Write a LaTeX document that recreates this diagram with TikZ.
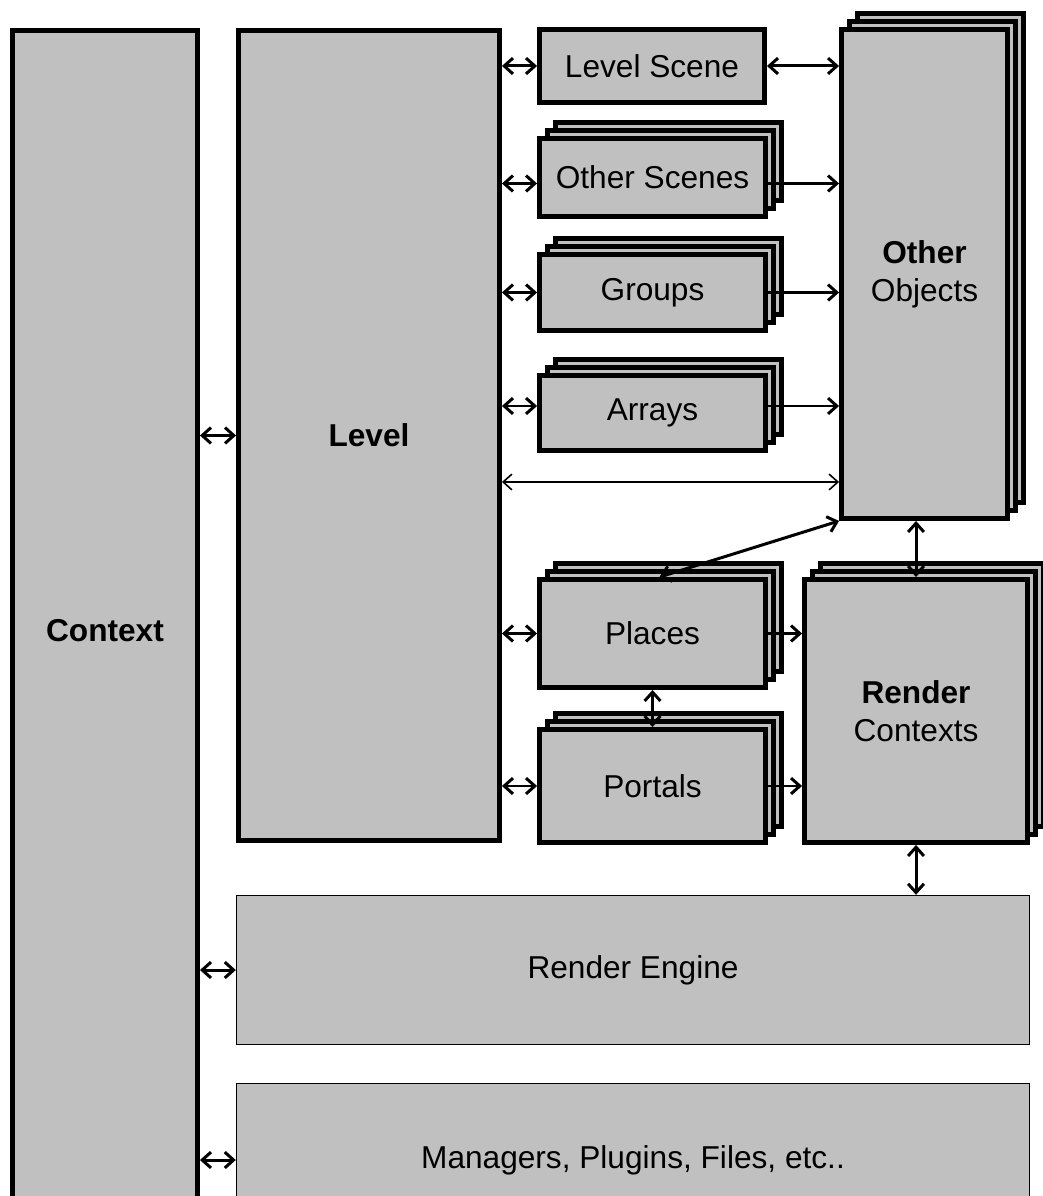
\documentclass[tikz,border=0pt]{standalone}
\usepackage{fontspec}
\setmainfont{Liberation Sans}
\usetikzlibrary{arrows.meta,shadows}
\definecolor{boxgray}{RGB}{192,192,192}

\begin{document}
\begin{tikzpicture}[>={Straight Barb[length=2.5pt,width=4.5pt]}, font=\fontsize{9}{10.8}\selectfont,
    heavy/.style={draw, line width=1.4pt, fill=boxgray, inner sep=0pt, align=center},
    light/.style={draw, line width=0.4pt, fill=boxgray, inner sep=0pt, align=center},
    stacked/.style={heavy,
        general shadow={shadow scale=1, shadow xshift=0.16cm, shadow yshift=0.16cm, draw, fill=boxgray, line width=1.4pt},
        general shadow={shadow scale=1, shadow xshift=0.08cm, shadow yshift=0.08cm, draw, fill=boxgray, line width=1.4pt}},
    link/.style={<->, line width=0.85pt}]
    \useasboundingbox (0,0) rectangle (10.43,-11.96);
    % boxes
    \node[heavy, minimum width=1.85cm, minimum height=12cm] (context) at (1.05,-6.305) {\bfseries Context};
    \node[heavy, minimum width=2.61cm, minimum height=8.10cm] (level) at (3.69,-4.355) {\bfseries Level};
    \node[heavy, minimum width=2.25cm, minimum height=0.73cm] (ls) at (6.52,-0.66) {Level Scene};
    \node[stacked, minimum width=2.26cm, minimum height=0.78cm] (os) at (6.525,-1.775) {Other Scenes};
    \node[stacked, minimum width=2.26cm, minimum height=0.76cm] (groups) at (6.525,-2.925) {Groups};
    \node[stacked, minimum width=2.26cm, minimum height=0.75cm] (arrays) at (6.525,-4.13) {Arrays};
    \node[stacked, minimum width=1.66cm, minimum height=4.89cm] (oo) at (9.245,-2.74) {\textbf{Other}\\Objects};
    \node[stacked, minimum width=2.26cm, minimum height=1.08cm] (places) at (6.525,-6.335) {Places};
    \node[stacked, minimum width=2.26cm, minimum height=1.13cm] (portals) at (6.525,-7.86) {Portals};
    \node[stacked, minimum width=2.23cm, minimum height=2.63cm] (rc) at (9.16,-7.11) {\textbf{Render}\\Contexts};
    \node[light, minimum width=7.93cm, minimum height=1.49cm] (re) at (6.33,-9.70) {Render Engine};
    \node[light, minimum width=7.93cm, minimum height=1.53cm] (mgr) at (6.33,-11.60) {Managers, Plugins, Files, etc..};
    \coordinate (mid) at (0,-4.82);
    % links
    \draw[link] (context.east |- level.west) -- (level.west);
    \draw[link] (context.east |- re.west) -- (re.west);
    \draw[link] (context.east |- mgr.west) -- (mgr.west);
    \draw[link] (level.east |- ls.west) -- (ls.west);
    \draw[link] (ls.east) -- (ls.east -| oo.west);
    \draw[link] (level.east |- os.west) ++(0,-0.06) -- ([yshift=-0.06cm]os.west);
    \draw[link] (level.east |- groups.west) -- (groups.west);
    \draw[link] (level.east |- arrays.west) ++(0,0.07) -- ([yshift=0.07cm]arrays.west);
    \draw[->, line width=0.85pt] ([yshift=-0.06cm]os.east) -- ([yshift=-0.06cm]os.east -| oo.west);
    \draw[->, line width=0.85pt] (groups.east) -- (groups.east -| oo.west);
    \draw[->, line width=0.85pt] ([yshift=0.07cm]arrays.east) -- ([yshift=0.07cm]arrays.east -| oo.west);
    \draw[<->, line width=0.45pt] (level.east |- mid) -- (oo.west |- mid);
    \draw[link] (oo.south west) -- ([xshift=0.07cm]places.north);
    \draw[link] (oo.south -| rc.north) -- (rc.north);
    \draw[link] (level.east |- places.west) -- (places.west);
    \draw[link] (level.east |- portals.west) -- (portals.west);
    \draw[->, line width=0.85pt] (places.east) -- (places.east -| rc.west);
    \draw[->, line width=0.85pt] (portals.east) -- (portals.east -| rc.west);
    \draw[link] (places.south) -- (portals.north);
    \draw[link] (rc.south) -- (rc.south |- re.north);
\end{tikzpicture}
\end{document}
